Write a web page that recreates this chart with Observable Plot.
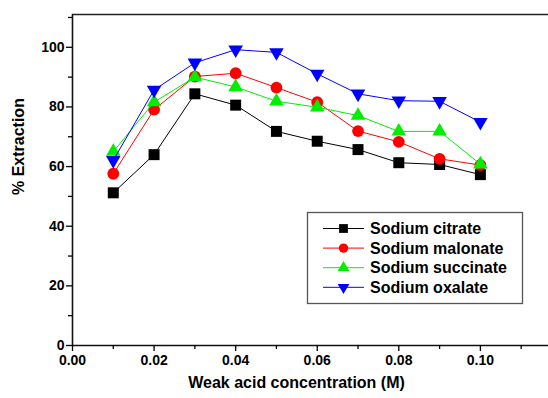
<!DOCTYPE html>
<html><head><meta charset="utf-8">
<script src="https://cdn.jsdelivr.net/npm/d3@7"></script>
<script src="https://cdn.jsdelivr.net/npm/@observablehq/plot@0.6"></script>
<style>body{margin:0;background:#fff} svg{font-family:"Liberation Sans",Arial,sans-serif}</style>
</head><body><div id="chart"></div>
<script>
const concentration = [0.01, 0.02, 0.03, 0.04, 0.05, 0.06, 0.07, 0.08, 0.09, 0.10];
const citrate   = [51.2, 64.0, 84.4, 80.6, 71.8, 68.5, 65.7, 61.3, 60.7, 57.3];
const malonate  = [57.6, 79.1, 90.2, 91.3, 86.5, 81.6, 71.9, 68.3, 62.6, 60.5];
const succinate = [65.0, 81.6, 90.0, 86.7, 81.9, 79.9, 77.1, 71.8, 71.8, 60.8];
const oxalate   = [62.1, 85.7, 94.8, 99.2, 98.3, 91.1, 84.4, 82.1, 81.9, 74.9];
const seriesNames = ["Sodium citrate", "Sodium malonate", "Sodium succinate", "Sodium oxalate"];
const seriesColors = ["#000000", "#ff0000", "#00ee00", "#0000ff"];
const xMajorTicks = [0, 0.02, 0.04, 0.06, 0.08, 0.10];
const xMinorTicks = [0.01, 0.03, 0.05, 0.07, 0.09, 0.11];
const yMajorTicks = [0, 20, 40, 60, 80, 100];
const yMinorTicks = [10, 30, 50, 70, 90, 110];
const xDomain = [0, 0.1167];
const yDomain = [0, 111];

const sqrt3 = Math.sqrt(3);
const triangleDown = {draw(context, size) {
  const y = -Math.sqrt(size / (sqrt3 * 3));
  context.moveTo(0, -y * 2);
  context.lineTo(-sqrt3 * y, y);
  context.lineTo(sqrt3 * y, y);
  context.closePath();
}};
const symbols = ["square", "circle", "triangle", triangleDown];
const d3symbols = [d3.symbolSquare, d3.symbolCircle, d3.symbolTriangle, triangleDown];
const radii = [6.2, 5.9, 5.4, 5.4];
const valuesList = [citrate, malonate, succinate, oxalate];

const series = seriesNames.map((name, i) => ({
  name, color: seriesColors[i], symbol: symbols[i], r: radii[i],
  data: concentration.map((c, j) => ({x: c, y: valuesList[i][j]}))
}));

const marks = [
  Plot.ruleY([yDomain[1]], {stroke: "#222", strokeWidth: 1.6}),
  Plot.ruleY([0], {stroke: "#111", strokeWidth: 1.6}),
  Plot.ruleX([0], {stroke: "#111", strokeWidth: 1.6}),
  Plot.axisX(xMajorTicks, {tickSize: 6, tickPadding: 4, tickFormat: d3.format(".2f"), fontSize: 14, fontWeight: "bold", label: null, strokeWidth: 1.3}),
  Plot.axisX(xMinorTicks, {tickSize: 4, tickFormat: () => "", label: null, strokeWidth: 1.3}),
  Plot.axisY(yMajorTicks, {tickSize: 6, tickPadding: 2, fontSize: 14, fontWeight: "bold", label: null, strokeWidth: 1.3}),
  Plot.axisY(yMinorTicks, {tickSize: 4, tickFormat: () => "", label: null, strokeWidth: 1.3}),
  Plot.text(["Weak acid concentration (M)"], {frameAnchor: "bottom", dy: 42, dx: -14, fontSize: 16, fontWeight: "bold", fill: "black"}),
  Plot.text(["% Extraction"], {frameAnchor: "left", rotate: -90, dx: -54, dy: 15, fontSize: 16, fontWeight: "bold", fill: "black"})
];
for (const s of series) {
  marks.push(Plot.line(s.data, {x: "x", y: "y", stroke: s.color, strokeWidth: 1}));
  marks.push(Plot.dot(s.data, {x: "x", y: "y", fill: s.color, stroke: "none", symbol: s.symbol, r: s.r}));
}

const plot = Plot.plot({
  width: 548, height: 398,
  marginLeft: 72, marginTop: 14, marginBottom: 53, marginRight: 0,
  x: {domain: xDomain, axis: null},
  y: {domain: yDomain, axis: null},
  style: {background: "white", color: "black", fontFamily: "'Liberation Sans', Arial, sans-serif"},
  marks
});
document.getElementById("chart").appendChild(plot);

// legend
const svg = d3.select(plot);
const lg = svg.append("g").attr("text-anchor", "start");
lg.append("rect").attr("x", 307.5).attr("y", 212.5).attr("width", 215).attr("height", 91)
  .attr("fill", "white").attr("stroke", "#555").attr("stroke-width", 1.3);
seriesNames.forEach((name, i) => {
  const y = 228.5 + i * 19.6;
  lg.append("line").attr("x1", 323).attr("x2", 364).attr("y1", y).attr("y2", y)
    .attr("stroke", seriesColors[i]).attr("stroke-width", 1);
  lg.append("path").attr("transform", `translate(343.5,${y})`)
    .attr("d", d3.symbol(d3symbols[i], Math.PI * Math.pow(radii[i] * 0.8, 2))())
    .attr("fill", seriesColors[i]);
  lg.append("text").attr("x", 370).attr("y", y).attr("dy", "0.35em").attr("text-anchor", "start")
    .attr("font-size", 16).attr("font-weight", "bold").attr("fill", "black").text(name);
});
</script></body></html>
